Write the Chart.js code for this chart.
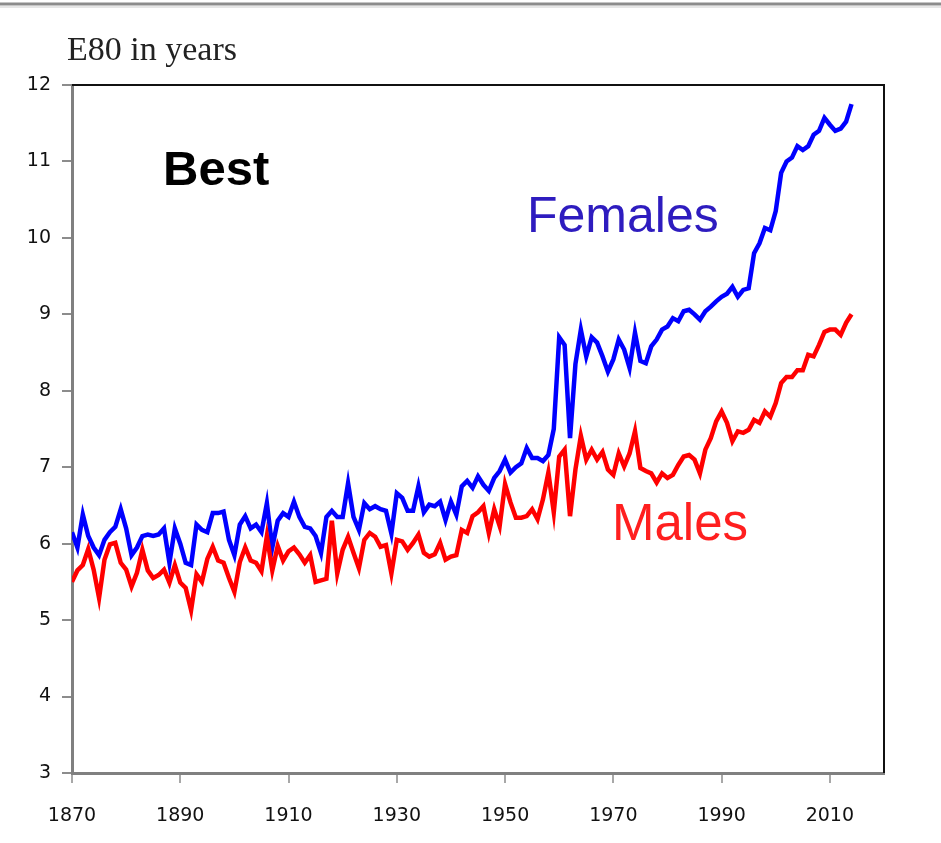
<!DOCTYPE html>
<html>
<head>
<meta charset="utf-8">
<script src="https://cdn.jsdelivr.net/npm/chart.js@4.4.0/dist/chart.umd.min.js"></script>
<style>
html, body { margin: 0; padding: 0; background: #fff; }
#wrap { width: 941px; height: 843px; }
</style>
</head>
<body>
<div id="wrap"><canvas id="e80Chart" width="941" height="843"></canvas></div>
<script>
const firstYear = 1870;

// E80 (life expectancy at age 80), best-practice country, 1870-2014
const females = [
    6.15, 5.95, 6.38, 6.10, 5.95, 5.85, 6.05, 6.15, 6.22, 6.45,
    6.20, 5.85, 5.95, 6.10, 6.12, 6.10, 6.12, 6.20, 5.75, 6.20,
    6.00, 5.75, 5.72, 6.25, 6.18, 6.15, 6.40, 6.40, 6.42, 6.05,
    5.85, 6.25, 6.36, 6.20, 6.25, 6.15, 6.53, 5.95, 6.30, 6.40,
    6.35, 6.55, 6.35, 6.22, 6.20, 6.10, 5.88, 6.35, 6.43, 6.35,
    6.35, 6.79, 6.35, 6.18, 6.53, 6.45, 6.49, 6.45, 6.43, 6.13,
    6.66, 6.60, 6.43, 6.43, 6.75, 6.41, 6.51, 6.49, 6.55, 6.31,
    6.55, 6.38, 6.75, 6.82, 6.73, 6.88, 6.77, 6.69, 6.86, 6.95,
    7.10, 6.93, 7.00, 7.05, 7.25, 7.12, 7.12, 7.08, 7.16, 7.50,
    8.70, 8.60, 7.38, 8.35, 8.80, 8.45, 8.70, 8.63, 8.45, 8.25,
    8.41, 8.67, 8.54, 8.30, 8.76, 8.39, 8.36, 8.58, 8.67, 8.80,
    8.84, 8.95, 8.91, 9.04, 9.06, 9.00, 8.93, 9.04, 9.10, 9.17,
    9.23, 9.27, 9.36, 9.23, 9.32, 9.34, 9.80, 9.93, 10.13, 10.10,
    10.35, 10.85, 11.00, 11.05, 11.20, 11.15, 11.20, 11.35, 11.40, 11.57,
    11.48, 11.40, 11.43, 11.52, 11.75
];

const males = [
    5.50, 5.65, 5.72, 5.93, 5.66, 5.29, 5.79, 5.99, 6.01, 5.75,
    5.66, 5.44, 5.62, 5.92, 5.65, 5.55, 5.59, 5.66, 5.49, 5.72,
    5.49, 5.42, 5.13, 5.60, 5.50, 5.80, 5.96, 5.78, 5.75, 5.55,
    5.37, 5.76, 5.95, 5.78, 5.75, 5.64, 6.10, 5.65, 5.97, 5.78,
    5.90, 5.95, 5.86, 5.75, 5.85, 5.50, 5.52, 5.54, 6.30, 5.61,
    5.92, 6.09, 5.88, 5.68, 6.05, 6.14, 6.09, 5.96, 5.98, 5.61,
    6.05, 6.03, 5.92, 6.01, 6.12, 5.88, 5.83, 5.86, 6.01, 5.79,
    5.83, 5.85, 6.18, 6.14, 6.36, 6.41, 6.49, 6.14, 6.45, 6.23,
    6.78, 6.54, 6.34, 6.34, 6.36, 6.45, 6.32, 6.58, 6.93, 6.41,
    7.14, 7.23, 6.36, 6.97, 7.41, 7.10, 7.23, 7.10, 7.20, 6.97,
    6.90, 7.18, 7.01, 7.18, 7.47, 6.99, 6.95, 6.92, 6.80, 6.92,
    6.86, 6.90, 7.03, 7.14, 7.16, 7.10, 6.92, 7.23, 7.38, 7.60,
    7.73, 7.58, 7.34, 7.47, 7.45, 7.49, 7.62, 7.58, 7.73, 7.66,
    7.84, 8.10, 8.18, 8.18, 8.27, 8.27, 8.47, 8.45, 8.60, 8.77,
    8.80, 8.80, 8.73, 8.89, 9.00
];

const xTickLabels = [1870, 1890, 1910, 1930, 1950, 1970, 1990, 2010];
const yTickLabels = [3, 4, 5, 6, 7, 8, 9, 10, 11, 12];

const years = females.map((_, i) => firstYear + i);
const femalePoints = females.map((v, i) => ({ x: years[i], y: v }));
const malePoints = males.map((v, i) => ({ x: years[i], y: v }));

const tickFont = { family: "DejaVu Sans", size: 19 };

// frame lines and the text labels inside the plot
const decorations = {
    id: "decorations",
    beforeDraw(chart) {
        const ctx = chart.ctx;
        ctx.save();
        ctx.fillStyle = "#fff";
        ctx.fillRect(0, 0, chart.width, chart.height);
        ctx.strokeStyle = "#8c8c8c";
        ctx.lineWidth = 3;
        ctx.beginPath();
        ctx.moveTo(0, 4);
        ctx.lineTo(chart.width, 4);
        ctx.stroke();
        ctx.strokeStyle = "#e6e6e6";
        ctx.lineWidth = 2;
        ctx.beginPath();
        ctx.moveTo(0, 7);
        ctx.lineTo(chart.width, 7);
        ctx.stroke();
        ctx.restore();
    },
    afterDraw(chart) {
        const ctx = chart.ctx;
        const a = chart.chartArea;
        ctx.save();
        ctx.strokeStyle = "#111";
        ctx.lineWidth = 2;
        ctx.beginPath();
        ctx.moveTo(a.left, a.top);
        ctx.lineTo(a.right, a.top);
        ctx.lineTo(a.right, a.bottom);
        ctx.stroke();

        ctx.textBaseline = "alphabetic";
        ctx.textAlign = "left";
        ctx.fillStyle = "#222";
        ctx.font = "34px 'Liberation Serif'";
        ctx.fillText("E80 in years", 67, 60);

        ctx.fillStyle = "#000";
        ctx.font = "bold 49px 'Liberation Sans'";
        ctx.fillText("Best", 163, 185);

        ctx.fillStyle = "#2e1cbf";
        ctx.font = "50px 'Liberation Sans'";
        ctx.fillText("Females", 527, 232);

        ctx.fillStyle = "#ff1f1f";
        ctx.font = "51px 'Liberation Sans'";
        ctx.fillText("Males", 612, 540);
        ctx.restore();
    }
};

new Chart(document.getElementById("e80Chart"), {
    type: "line",
    data: {
        datasets: [{
            label: "Males",
            data: malePoints,
            borderColor: "#ff0000",
            borderWidth: 4.5,
            pointRadius: 0,
            tension: 0
        }, {
            label: "Females",
            data: femalePoints,
            borderColor: "#0000ff",
            borderWidth: 4.5,
            pointRadius: 0,
            tension: 0
        }]
    },
    options: {
        responsive: false,
        animation: false,
        devicePixelRatio: 1,
        layout: {
            padding: { top: 85, right: 57, left: 0, bottom: 0 }
        },
        plugins: {
            legend: { display: false },
            tooltip: { enabled: false }
        },
        scales: {
            x: {
                type: "linear",
                min: 1870,
                max: 2020,
                afterBuildTicks: (scale) => {
                    scale.ticks = xTickLabels.map(v => ({ value: v }));
                },
                afterFit: (scale) => { scale.height = 70; },
                ticks: {
                    font: tickFont,
                    color: "#111",
                    padding: 22,
                    autoSkip: false,
                    maxRotation: 0,
                    callback: (v) => String(v)
                },
                grid: {
                    drawOnChartArea: false,
                    drawTicks: true,
                    tickLength: 10,
                    color: "#a8a8a8",
                    lineWidth: 2
                },
                border: { display: true, color: "#808080", width: 3 }
            },
            y: {
                min: 3,
                max: 12,
                afterBuildTicks: (scale) => {
                    scale.ticks = yTickLabels.map(v => ({ value: v }));
                },
                afterFit: (scale) => { scale.width = 72; },
                ticks: {
                    font: tickFont,
                    color: "#111",
                    padding: 11,
                    callback: (v) => String(v)
                },
                grid: {
                    drawOnChartArea: false,
                    drawTicks: true,
                    tickLength: 10,
                    color: "#8c8c8c",
                    lineWidth: 2
                },
                border: { display: true, color: "#808080", width: 3 }
            }
        }
    },
    plugins: [decorations]
});
</script>
</body>
</html>
